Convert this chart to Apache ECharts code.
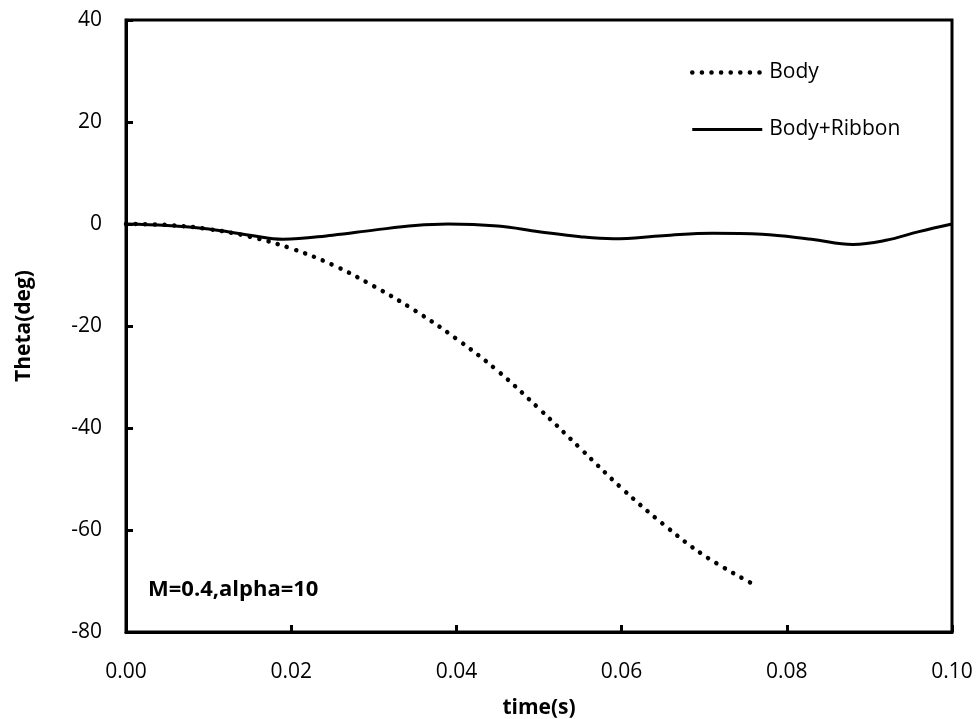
<!DOCTYPE html>
<html><head><meta charset="utf-8">
<script src="https://cdn.jsdelivr.net/npm/echarts@6/dist/echarts.min.js"></script>
<style>html,body{margin:0;padding:0;background:#fff}#c{width:977px;height:719px}</style>
</head><body><div id="c"></div>
<script>
const bodyT = [0, 0.005, 0.01, 0.015, 0.02, 0.025, 0.03, 0.035, 0.04, 0.045, 0.05, 0.055, 0.06, 0.065, 0.07, 0.0758];
const bodyV = [0, -0.2, -1.0, -2.5, -4.8, -8.0, -12.2, -17.0, -22.5, -28.8, -36.2, -44.0, -51.8, -58.8, -65.0, -70.5];
const ribT = [0, 0.005, 0.01, 0.015, 0.019, 0.025, 0.03, 0.035, 0.039, 0.045, 0.05, 0.055, 0.059, 0.065, 0.071, 0.077, 0.083, 0.088, 0.092, 0.096, 0.1];
const ribV = [0, -0.3, -1.0, -2.2, -3.0, -2.2, -1.2, -0.3, 0, -0.4, -1.5, -2.5, -2.9, -2.3, -1.8, -2.0, -3.0, -4.0, -3.2, -1.5, 0];
const xTicks = ['0.00', '0.02', '0.04', '0.06', '0.08', '0.10'];
const yTicks = [40, 20, 0, -20, -40, -60, -80];
const FONT = 'Open Sans';
const FS = 21;
const dotStyle = {color: '#000', width: 4.5, type: [0.1, 9.5], cap: 'round'};
const chart = echarts.init(document.getElementById('c'));
chart.setOption({
  backgroundColor: '#fff',
  animation: false,
  textStyle: {fontFamily: FONT},
  grid: {left: 126, right: 25, top: 20, bottom: 87, show: true, borderColor: '#000', borderWidth: 3,
    containLabel: false, outerBoundsMode: 'none'},
  legend: {
    orient: 'vertical', left: 685, top: 57, itemGap: 36, itemWidth: 70, itemHeight: 16,
    itemStyle: {opacity: 0},
    textStyle: {fontFamily: FONT, fontSize: FS, color: '#000', padding: [0, 0, 0, 2]},
    data: [
      {name: 'Body', lineStyle: dotStyle},
      {name: 'Body+Ribbon', lineStyle: {color: '#000', width: 3}}
    ]
  },
  xAxis: {
    type: 'value', min: 0, max: 0.1, interval: 0.02,
    name: 'time(s)', nameLocation: 'middle', nameGap: 66,
    nameTextStyle: {fontFamily: FONT, fontWeight: 'bold', fontSize: FS, color: '#000'},
    axisLine: {onZero: false, lineStyle: {color: '#000', width: 3}},
    axisTick: {inside: true, length: 7, lineStyle: {color: '#000', width: 3}},
    splitLine: {show: false},
    axisLabel: {margin: 30, fontSize: FS, color: '#000', fontFamily: FONT,
      formatter: v => xTicks[Math.round(v / 0.02)]}
  },
  yAxis: {
    type: 'value', min: -80, max: 40, interval: 20,
    name: 'Theta(deg)', nameLocation: 'middle', nameGap: 91, nameRotate: 90,
    nameTextStyle: {fontFamily: FONT, fontWeight: 'bold', fontSize: FS, color: '#000'},
    axisLine: {onZero: false, lineStyle: {color: '#000', width: 3}},
    axisTick: {inside: true, length: 7, lineStyle: {color: '#000', width: 3}},
    splitLine: {show: false},
    axisLabel: {margin: 24, fontSize: FS, color: '#000', fontFamily: FONT,
      formatter: v => String(yTicks.find(t => t === v))}
  },
  graphic: [{
    type: 'text', left: 148, top: 579,
    style: {text: 'M=0.4,alpha=10', font: 'bold 22px "Open Sans"', fill: '#000'}
  }],
  series: [
    {
      name: 'Body', type: 'line', smooth: 0.4, showSymbol: false, symbol: 'none',
      data: bodyT.map((t, i) => [t, bodyV[i]]),
      lineStyle: dotStyle,
      itemStyle: {color: '#000'}
    },
    {
      name: 'Body+Ribbon', type: 'line', smooth: 0.4, showSymbol: false, symbol: 'none',
      data: ribT.map((t, i) => [t, ribV[i]]),
      lineStyle: {color: '#000', width: 3},
      itemStyle: {color: '#000'}
    }
  ]
});
</script></body></html>
